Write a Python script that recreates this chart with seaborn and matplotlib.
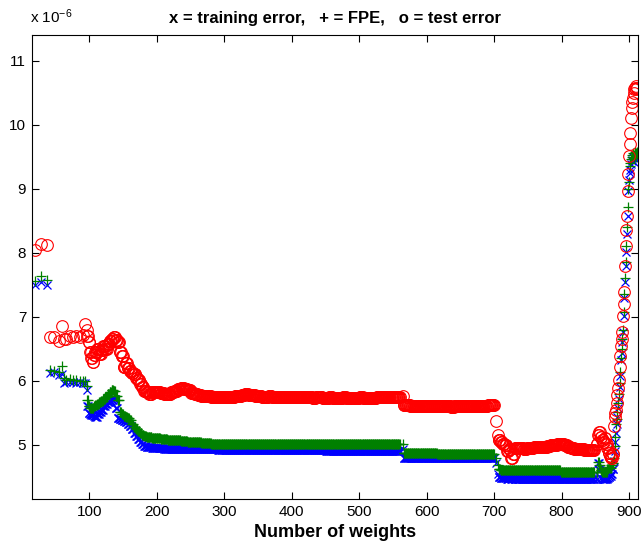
import matplotlib
matplotlib.use("Agg")
import numpy as np
import pandas as pd
import seaborn as sns
import matplotlib.pyplot as plt
from matplotlib.ticker import FuncFormatter

# Each reading is taken at weight count `w_read` and holds for the `span`
# consecutive weight counts ending there (span 1 = a single pruning step).
w_read = [
    19, 29, 38,
    41, 48, 55, 59, 62, 66, 71, 76, 81, 86, 90, 94, 96, 98, 100, 102, 104, 106,
    108, 111, 114, 117, 120, 123, 126, 129, 132, 135, 138, 141, 144, 147, 150,
    153, 156, 159, 162, 165, 168, 171, 174, 177, 180, 184, 188, 192, 196, 200,
    205, 210, 215, 220, 225, 230, 235, 240, 245, 250, 255, 260, 265, 270, 275,
    280, 285, 290, 295, 300, 305, 310, 315, 320, 325, 330, 335, 340, 345, 350,
    355, 360, 365, 370, 375, 380, 385, 390, 395, 400, 405, 410, 415, 420, 425,
    430, 435, 440, 445, 450, 455, 460, 465, 470, 475, 480, 485, 490, 495, 500,
    505, 510, 515, 520, 525, 530, 535, 540, 545, 550, 555, 560,
    565,
    570, 575, 580, 585, 590, 595, 600, 605, 610, 615, 620, 625, 630, 635, 640,
    645, 650, 655, 660, 665, 670, 675, 680, 685, 690, 695, 700,
    703, 706, 709, 712, 715, 718, 721, 724, 727, 730, 733,
    738, 743, 748, 753, 758, 763, 768, 773, 778, 783, 788, 793, 798, 803, 808,
    813, 818, 823, 828, 833, 838, 843, 848,
    853, 855, 857, 859, 861, 863, 865, 867, 869, 871, 873, 875, 877,
    878, 879, 880, 881, 882, 883, 884, 885, 886, 887, 888, 889, 890, 891, 892,
    893, 894, 895, 896, 897, 898, 899, 900, 901, 902, 903, 904, 905, 906, 907,
    908, 909, 910, 911, 912,
]

span = (
    [1] * 3
    + [1] * 13 + [2] * 6 + [3] * 24 + [4] * 5
    + [5] * 72
    + [1]
    + [5] * 27
    + [1, 1, 3, 3, 3, 3, 3, 3, 3, 3, 3]
    + [5] * 23
    + [2] * 13
    + [1] * 35
)

# Training error (units of 1e-6)
train_err = [
    7.49, 7.54, 7.50,
    6.12, 6.13, 6.09, 6.10, 5.96, 5.98, 5.98, 5.98, 5.97, 5.98, 5.97, 5.97,
    5.86, 5.60, 5.50, 5.48, 5.47, 5.46, 5.45, 5.44, 5.48, 5.52, 5.55, 5.60,
    5.64, 5.67, 5.69, 5.70, 5.71, 5.58, 5.42, 5.40, 5.39, 5.38, 5.36, 5.33,
    5.29, 5.24, 5.19, 5.14, 5.09, 5.04, 5.01, 4.98, 4.96, 4.96, 4.95, 4.95,
    4.95, 4.95, 4.94, 4.94, 4.94, 4.94, 4.93, 4.93, 4.93, 4.93, 4.93, 4.93,
    4.93, 4.93, 4.93, 4.93, 4.93, 4.93, 4.92, 4.92, 4.92, 4.92, 4.92, 4.92,
    4.92, 4.92, 4.92, 4.92, 4.92, 4.92, 4.92, 4.92, 4.92, 4.92, 4.92, 4.92,
    4.92, 4.92, 4.92, 4.92, 4.92, 4.92, 4.92, 4.92, 4.92, 4.92, 4.92, 4.92,
    4.92, 4.92, 4.91, 4.91, 4.91, 4.91, 4.91, 4.91, 4.91, 4.91, 4.91, 4.91,
    4.91, 4.91, 4.91, 4.91, 4.91, 4.91, 4.91, 4.91, 4.91, 4.91, 4.91, 4.91,
    4.93,
    4.80, 4.80, 4.80, 4.79, 4.79, 4.79, 4.79, 4.79, 4.79, 4.79, 4.79, 4.79,
    4.79, 4.79, 4.79, 4.79, 4.79, 4.79, 4.79, 4.79, 4.79, 4.79, 4.79, 4.79,
    4.79, 4.79, 4.79,
    4.72, 4.55, 4.50, 4.48, 4.48, 4.48, 4.47, 4.48, 4.47, 4.48, 4.47,
    4.47, 4.47, 4.47, 4.47, 4.47, 4.47, 4.47, 4.47, 4.47, 4.47, 4.47, 4.47,
    4.46, 4.46, 4.46, 4.46, 4.46, 4.46, 4.46, 4.46, 4.46, 4.46, 4.46,
    4.46, 4.72, 4.60, 4.48, 4.46, 4.47, 4.46, 4.46, 4.48, 4.50, 4.52, 4.55, 4.62,
    4.75, 4.90, 5.05, 5.19, 5.32, 5.44, 5.58, 5.71, 5.91, 6.07, 6.33, 6.44,
    6.60, 6.76, 7.01, 7.30, 7.54, 7.80, 8.01, 8.30, 8.58, 8.96, 9.13, 9.25,
    9.30, 9.38, 9.43, 9.45, 9.50, 9.42, 9.48, 9.52, 9.46, 9.50, 9.53,
]

# Final prediction error estimate (units of 1e-6)
fpe_err = [
    7.56, 7.64, 7.57,
    6.17, 6.16, 6.14, 6.23, 6.05, 6.02, 6.03, 6.02, 6.02, 6.00, 5.99, 6.00,
    5.92, 5.70, 5.60, 5.58, 5.58, 5.58, 5.60, 5.62, 5.64, 5.67, 5.69, 5.71,
    5.75, 5.79, 5.82, 5.86, 5.84, 5.76, 5.70, 5.52, 5.48, 5.45, 5.44, 5.42,
    5.39, 5.33, 5.28, 5.24, 5.21, 5.18, 5.16, 5.14, 5.13, 5.12, 5.11, 5.10,
    5.10, 5.09, 5.09, 5.08, 5.08, 5.07, 5.07, 5.06, 5.06, 5.05, 5.05, 5.04,
    5.04, 5.03, 5.03, 5.03, 5.02, 5.02, 5.02, 5.02, 5.02, 5.01, 5.02, 5.02,
    5.02, 5.02, 5.02, 5.02, 5.02, 5.02, 5.01, 5.02, 5.02, 5.02, 5.02, 5.02,
    5.02, 5.02, 5.02, 5.02, 5.02, 5.02, 5.01, 5.02, 5.02, 5.02, 5.02, 5.02,
    5.02, 5.01, 5.02, 5.02, 5.02, 5.02, 5.02, 5.02, 5.02, 5.02, 5.01, 5.02,
    5.02, 5.02, 5.02, 5.02, 5.02, 5.02, 5.02, 5.02, 5.02, 5.02, 5.01, 5.02,
    5.01,
    4.88, 4.88, 4.87, 4.87, 4.87, 4.87, 4.87, 4.87, 4.87, 4.87, 4.86, 4.86,
    4.86, 4.86, 4.86, 4.86, 4.86, 4.86, 4.86, 4.86, 4.86, 4.86, 4.86, 4.85,
    4.85, 4.85, 4.85,
    4.80, 4.68, 4.62, 4.61, 4.60, 4.60, 4.60, 4.61, 4.60, 4.60, 4.60,
    4.60, 4.60, 4.60, 4.60, 4.60, 4.60, 4.60, 4.60, 4.60, 4.60, 4.60, 4.60,
    4.60, 4.58, 4.58, 4.58, 4.58, 4.58, 4.58, 4.58, 4.58, 4.58, 4.58,
    4.58, 4.73, 4.68, 4.60, 4.58, 4.58, 4.57, 4.58, 4.62, 4.66, 4.64, 4.68, 4.72,
    4.80, 4.98, 5.12, 5.32, 5.40, 5.52, 5.65, 5.79, 5.97, 6.13, 6.35, 6.49,
    6.65, 6.80, 7.07, 7.35, 7.60, 7.86, 8.11, 8.40, 8.72, 9.00, 9.11, 9.36,
    9.40, 9.46, 9.50, 9.52, 9.55, 9.48, 9.53, 9.58, 9.50, 9.55, 9.58,
]

# Test error (units of 1e-6)
test_err = [
    8.04, 8.14, 8.12,
    6.68, 6.68, 6.62, 6.86, 6.65, 6.66, 6.70, 6.68, 6.70, 6.68, 6.72, 6.88,
    6.80, 6.70, 6.60, 6.45, 6.36, 6.30, 6.40, 6.45, 6.50, 6.42, 6.48, 6.55,
    6.50, 6.58, 6.62, 6.66, 6.68, 6.64, 6.60, 6.45, 6.38, 6.22, 6.28, 6.20,
    6.15, 6.12, 6.10, 6.05, 6.02, 5.95, 5.90, 5.84, 5.82, 5.80, 5.83, 5.82,
    5.82, 5.81, 5.80, 5.80, 5.82, 5.84, 5.87, 5.89, 5.88, 5.85, 5.81, 5.79,
    5.78, 5.77, 5.76, 5.76, 5.75, 5.75, 5.74, 5.75, 5.75, 5.74, 5.75, 5.76,
    5.77, 5.78, 5.79, 5.78, 5.78, 5.77, 5.76, 5.75, 5.75, 5.76, 5.75, 5.75,
    5.74, 5.74, 5.75, 5.75, 5.74, 5.74, 5.74, 5.75, 5.74, 5.74, 5.73, 5.74,
    5.74, 5.73, 5.73, 5.74, 5.73, 5.73, 5.73, 5.74, 5.73, 5.73, 5.73, 5.73,
    5.74, 5.73, 5.73, 5.73, 5.73, 5.74, 5.74, 5.74, 5.74, 5.74, 5.74, 5.75,
    5.77,
    5.62, 5.62, 5.61, 5.61, 5.61, 5.60, 5.60, 5.61, 5.61, 5.60, 5.60, 5.60,
    5.60, 5.60, 5.59, 5.60, 5.60, 5.60, 5.60, 5.60, 5.60, 5.60, 5.60, 5.61,
    5.61, 5.62, 5.63,
    5.37, 5.15, 5.08, 5.05, 5.02, 5.00, 4.90, 4.93, 4.80, 4.86, 4.95,
    4.95, 4.95, 4.94, 4.95, 4.95, 4.96, 4.96, 4.97, 4.97, 4.98, 4.99, 5.00,
    5.01, 5.01, 4.99, 4.96, 4.95, 4.94, 4.93, 4.93, 4.92, 4.92, 4.92,
    5.02, 5.15, 5.20, 5.12, 5.08, 5.05, 5.10, 5.02, 4.95, 4.87, 4.82, 4.80, 4.86,
    5.30, 5.44, 5.50, 5.55, 5.66, 5.78, 5.89, 6.02, 6.21, 6.38, 6.55, 6.65,
    6.76, 7.01, 7.20, 7.39, 7.79, 8.11, 8.35, 8.58, 8.97, 9.23, 9.51, 9.70,
    9.87, 10.10, 10.26, 10.35, 10.42, 10.50, 10.55, 10.57, 10.60, 10.55, 10.58,
]

# One row per weight count covered by a reading
weights = [w for end, n in zip(w_read, span) for w in range(end - n + 1, end + 1)]
df = pd.DataFrame({
    "weights": weights,
    "train": np.repeat(train_err, span) * 1e-6,
    "fpe": np.repeat(fpe_err, span) * 1e-6,
    "test": np.repeat(test_err, span) * 1e-6,
})

sns.set_style("ticks")
plt.rcParams["font.family"] = ["Liberation Sans", "DejaVu Sans"]
plt.rcParams["mathtext.fontset"] = "custom"
plt.rcParams["mathtext.rm"] = "Liberation Sans"
plt.rcParams["mathtext.it"] = "Liberation Sans:italic"
plt.rcParams["mathtext.bf"] = "Liberation Sans:bold"
for key in ["text.color", "axes.labelcolor", "xtick.color", "ytick.color",
            "axes.edgecolor"]:
    plt.rcParams[key] = "black"

fig = plt.figure(figsize=(6.43, 5.56), dpi=100)
ax = fig.add_axes([0.0493, 0.102, 0.9425, 0.835])

common = dict(ax=ax, estimator=None, sort=False, linestyle="none")
sns.lineplot(data=df, x="weights", y="train", marker="x", markersize=6,
             markeredgewidth=0.9, color="#0000ff", markeredgecolor="#0000ff",
             **common)
sns.lineplot(data=df, x="weights", y="fpe", marker="+", markersize=7.5,
             markeredgewidth=0.9, color="#008000", markeredgecolor="#008000",
             **common)
sns.lineplot(data=df, x="weights", y="test", marker="o", markersize=8.4,
             markeredgewidth=0.8, color="#ff0000", markeredgecolor="#ff0000",
             markerfacecolor="none", **common)

ax.set_xlim(14.6, 913)
ax.set_ylim(4.15e-6, 11.4e-6)
ax.set_xticks([100, 200, 300, 400, 500, 600, 700, 800, 900])
ax.set_yticks([5e-6, 6e-6, 7e-6, 8e-6, 9e-6, 10e-6, 11e-6])
ax.yaxis.set_major_formatter(FuncFormatter(lambda v, p: f"{v * 1e6:.0f}"))
ax.tick_params(direction="in", top=True, right=True, length=5, width=0.8,
               labelsize=11, pad=4, colors="black")
for spine in ax.spines.values():
    spine.set_linewidth(0.8)
    spine.set_color("black")

ax.set_ylabel("")
ax.set_xlabel("Number of weights", fontsize=13, fontweight="bold", labelpad=4)
ax.set_title("x = training error,   + = FPE,   o = test error",
             fontsize=12, fontweight="bold", pad=9)
fig.text(30 / 643, 1 - 23 / 556, r"x 10$^{-6}$", fontsize=11)

fig.savefig("out.png", dpi=100)
